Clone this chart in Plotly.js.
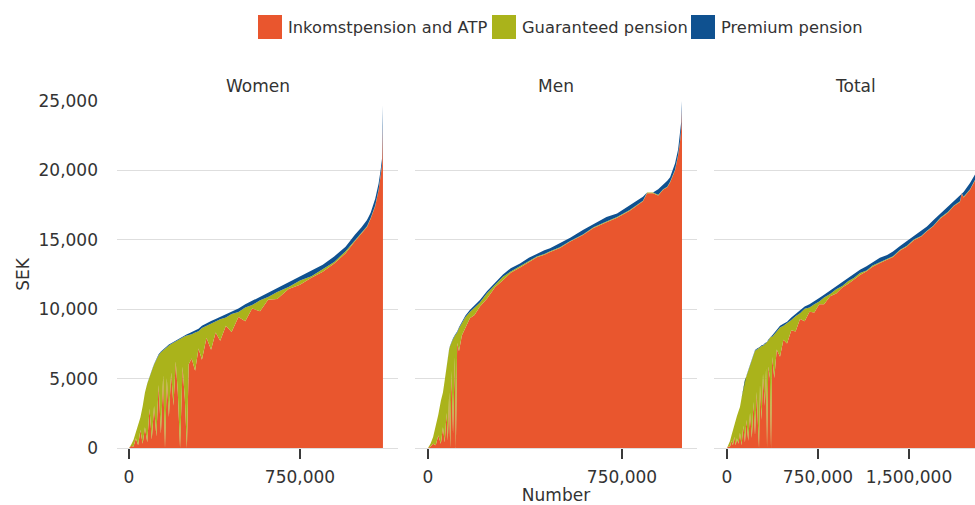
<!DOCTYPE html>
<html>
<head>
<meta charset="utf-8">
<script src="https://cdn.plot.ly/plotly-3.0.1.min.js"></script>
<style>
html,body{margin:0;padding:0;overflow:hidden;background:#fff;}
#chart{width:1000px;height:505px;}
</style>
</head>
<body>
<div id="chart"></div>
<script>
// ---- Data (SEK per month, individuals sorted by total pension) ----
const seriesNames = ["Inkomstpension and ATP", "Guaranteed pension", "Premium pension"];
const panelTitles = ["Women", "Men", "Total"];

// Women
const womenX    = [0,10000,20000,30000,40000,50000,60000,70000,80000,90000,100000,110000,120000,130000,140000,150000,158000,166000,175000,185000,195000,205000,214000,224000,235000,245000,254000,262000,275000,290000,305000,320000,340000,360000,380000,400000,425000,450000,480000,510000,540000,575000,610000,650000,700000,750000,800000,850000,900000,950000,990000,1020000,1044000,1060000,1080000,1095000,1104000,1110000,1114000];
const womenInk  = [0,150,100,700,200,1300,300,1500,420,2820,620,3020,820,4540,1040,5240,0,5040,2240,5440,3040,6240,4040,0,5850,3550,0,6030,6450,5570,7170,6350,7950,7080,8330,7720,8800,8350,9440,9130,10050,9850,10680,10740,11450,11770,12270,12700,13300,14030,14880,15500,15930,16520,17420,18580,19500,20350,23200];
const womenGar  = [0,100,500,400,1400,900,2700,2500,4200,2350,4950,3000,5550,2150,5850,1800,7190,2250,5150,2050,4550,1450,3750,7850,2100,4500,8100,2100,1750,2750,1250,2300,850,1900,750,1550,600,1300,350,1000,250,800,200,500,150,300,100,200,100,150,50,50,50,50,50,50,50,50,0];
const womenPrem = [0,0,0,0,0,0,0,0,30,30,30,30,30,60,60,60,60,60,60,60,60,60,60,80,100,100,100,120,150,130,180,150,200,170,220,180,250,200,260,220,300,250,320,260,350,280,380,300,400,320,420,350,450,380,480,420,500,450,1500];

// Men
const menX    = [0,10000,20000,30000,40000,50000,58000,65000,72000,77000,82000,86000,91000,97000,104000,108000,113000,120000,131000,145000,162000,180000,201000,228000,260000,290000,320000,356000,390000,421000,450000,472000,510000,550000,599000,640000,690000,731000,780000,831000,847000,870000,890000,909000,925000,936000,955000,967000,974000,979000,982000];
const menInk  = [0,100,300,200,900,300,1500,400,2520,520,4020,0,5540,1040,6540,0,7570,6970,8100,8630,9350,9590,10190,10750,11600,12080,12620,13010,13400,13750,13930,14130,14410,14870,15340,15850,16270,16590,17100,17770,18350,18350,18200,18600,18780,19130,20000,21070,22000,23000,24400];
const menGar  = [0,200,500,1300,1500,3100,2500,4500,3400,6250,3100,7370,2100,6800,1550,8190,750,1650,900,800,450,550,300,400,150,250,100,100,50,50,50,50,50,50,50,50,50,50,50,50,50,50,50,50,50,50,50,50,50,0,0];
const menPrem = [0,0,0,0,0,0,0,0,30,30,30,30,60,60,60,60,80,80,100,120,150,130,170,150,200,170,230,190,250,200,270,220,290,230,310,250,330,260,350,280,0,0,400,300,420,320,450,380,450,500,600];

// Total
const totalX    = [0,12000,25000,37000,49000,60000,72000,82000,95000,107000,120000,135000,148000,160000,175000,190000,205000,218000,231000,245000,256000,264000,272000,285000,297000,312000,322000,330000,340000,354000,363000,372000,390000,410000,437000,465000,495000,530000,565000,602000,640000,680000,720000,760000,800000,850000,900000,950000,1000000,1045000,1096000,1150000,1200000,1260000,1320000,1368000,1426000,1480000,1540000,1600000,1648000,1700000,1760000,1820000,1870000,1920000,1935000,1950000,2003000,2044000,2070000,2085000,2096000];
const totalInk  = [0,100,100,500,200,800,200,700,300,1100,200,1600,400,2020,520,2520,720,3320,940,4040,1540,0,4540,2040,5340,3040,5740,0,5870,5070,0,6550,5050,7100,6580,7800,7520,8480,8400,9300,9130,9820,9760,10350,10350,10940,11140,11570,11830,12150,12460,12740,13050,13320,13540,13760,14230,14500,14970,15230,15610,15970,16550,16950,17430,17730,18350,18050,18600,19270,20500,21530,24400];
const totalGar  = [0,150,400,400,1100,900,1800,1600,2350,1850,3400,2700,4500,3150,5050,3450,5650,3350,6060,3050,5600,7250,2700,5300,2020,4450,1800,7650,1850,2850,8050,1450,3150,1300,2100,1000,1450,750,1100,400,900,300,600,200,500,150,300,100,200,100,150,50,100,50,100,50,50,50,50,50,50,50,50,50,50,50,0,50,50,50,50,50,0];
const totalPrem = [0,0,0,0,0,0,0,0,0,0,0,0,0,30,30,30,30,30,60,60,60,0,60,60,60,60,60,0,80,80,0,100,100,100,120,150,130,170,150,200,170,230,190,250,200,260,210,280,220,300,240,310,250,330,260,340,270,350,280,370,290,380,300,400,320,420,0,350,450,380,450,420,600];

const tickValsWM = [0, 750000];
const tickTextWM = ["0", "750,000"];
const tickValsT  = [0, 750000, 1500000];
const tickTextT  = ["0", "750,000", "1,500,000"];
const yTicks = [0, 5000, 10000, 15000, 20000, 25000];

// ---- Styling ----
const colors = ["#E9562E", "#AAB31B", "#0F5190"];
const FONT = "DejaVu Sans";
const TXT = "#333333";
const W = 1000, H = 505, ML = 117, MR = 4, MT = 101, MB = 57;
const PW = W - ML - MR, PH = H - MT - MB;
const px2x = p => (p - ML) / PW;
const py2y = p => (H - MB - p) / PH;

const panels = [
  {x: womenX, s: [womenInk, womenGar, womenPrem], xa: "x",  grp: "w"},
  {x: menX,   s: [menInk, menGar, menPrem],       xa: "x2", grp: "m"},
  {x: totalX, s: [totalInk, totalGar, totalPrem], xa: "x3", grp: "t"}
];

const traces = [];
panels.forEach(p => {
  p.s.forEach((vals, i) => {
    traces.push({
      type: "scatter", x: p.x, y: vals, xaxis: p.xa, yaxis: "y",
      stackgroup: p.grp, mode: "lines",
      line: {width: 0, color: colors[i], shape: "linear"},
      fillcolor: colors[i], name: seriesNames[i],
      showlegend: false, hoverinfo: "skip"
    });
  });
});

const doms = [[px2x(117), px2x(398)], [px2x(415), px2x(697)], [px2x(714), 1]];

function xAxis(dom, range, tv, tt, extra) {
  return Object.assign({
    domain: dom, range: range, anchor: "y",
    tickvals: tv, ticktext: tt, ticks: "outside", ticklen: 10, tickwidth: 1.5,
    tickcolor: "#3a3a3a", showgrid: false, zeroline: false, showline: false,
    ticklabelstandoff: 4,
    tickfont: {family: FONT, size: 17, color: TXT}, fixedrange: true
  }, extra || {});
}

const annotations = panelTitles.map((t, i) => ({
  text: t, xref: "paper", yref: "paper",
  x: (doms[i][0] + Math.min(doms[i][1], px2x(996))) / 2, y: py2y(86),
  xanchor: "center", yanchor: "middle", showarrow: false,
  font: {family: FONT, size: 17, color: TXT}
}));

const legendBoxes = [258, 492, 691];
const shapes = [];
legendBoxes.forEach((lx, i) => {
  shapes.push({type: "rect", xref: "paper", yref: "paper",
    x0: px2x(lx), x1: px2x(lx + 24), y0: py2y(39), y1: py2y(15),
    fillcolor: colors[i], line: {width: 0}});
  annotations.push({text: seriesNames[i], xref: "paper", yref: "paper",
    x: px2x(lx + 28), y: py2y(27), xanchor: "left", yanchor: "middle",
    showarrow: false, font: {family: FONT, size: 16.3, color: TXT}});
});

const layout = {
  width: W, height: H,
  margin: {l: ML, r: MR, t: MT, b: MB},
  paper_bgcolor: "#ffffff", plot_bgcolor: "rgba(0,0,0,0)",
  font: {family: FONT, size: 17, color: TXT},
  showlegend: false,
  xaxis:  xAxis(doms[0], [-52600, 1180000], tickValsWM, tickTextWM),
  xaxis2: xAxis(doms[1], [-50000, 1040000], tickValsWM, tickTextWM,
                {title: {text: "Number", font: {family: FONT, size: 17, color: TXT}, standoff: 2}}),
  xaxis3: xAxis(doms[2], [-107000, 2217000], tickValsT, tickTextT),
  yaxis: {
    domain: [0, 1], range: [0, 25000], anchor: "x",
    tickvals: yTicks, tickformat: ",", ticks: "", ticklabelstandoff: 18,
    showgrid: true, gridcolor: "#dedede", gridwidth: 1,
    zeroline: true, zerolinecolor: "#dedede", zerolinewidth: 1, showline: false,
    tickfont: {family: FONT, size: 17, color: TXT},
    title: {text: "SEK", font: {family: FONT, size: 17, color: TXT}, standoff: 4},
    fixedrange: true
  },
  annotations: annotations,
  shapes: shapes
};

Plotly.newPlot("chart", traces, layout, {displayModeBar: false, staticPlot: true});
</script>
</body>
</html>
